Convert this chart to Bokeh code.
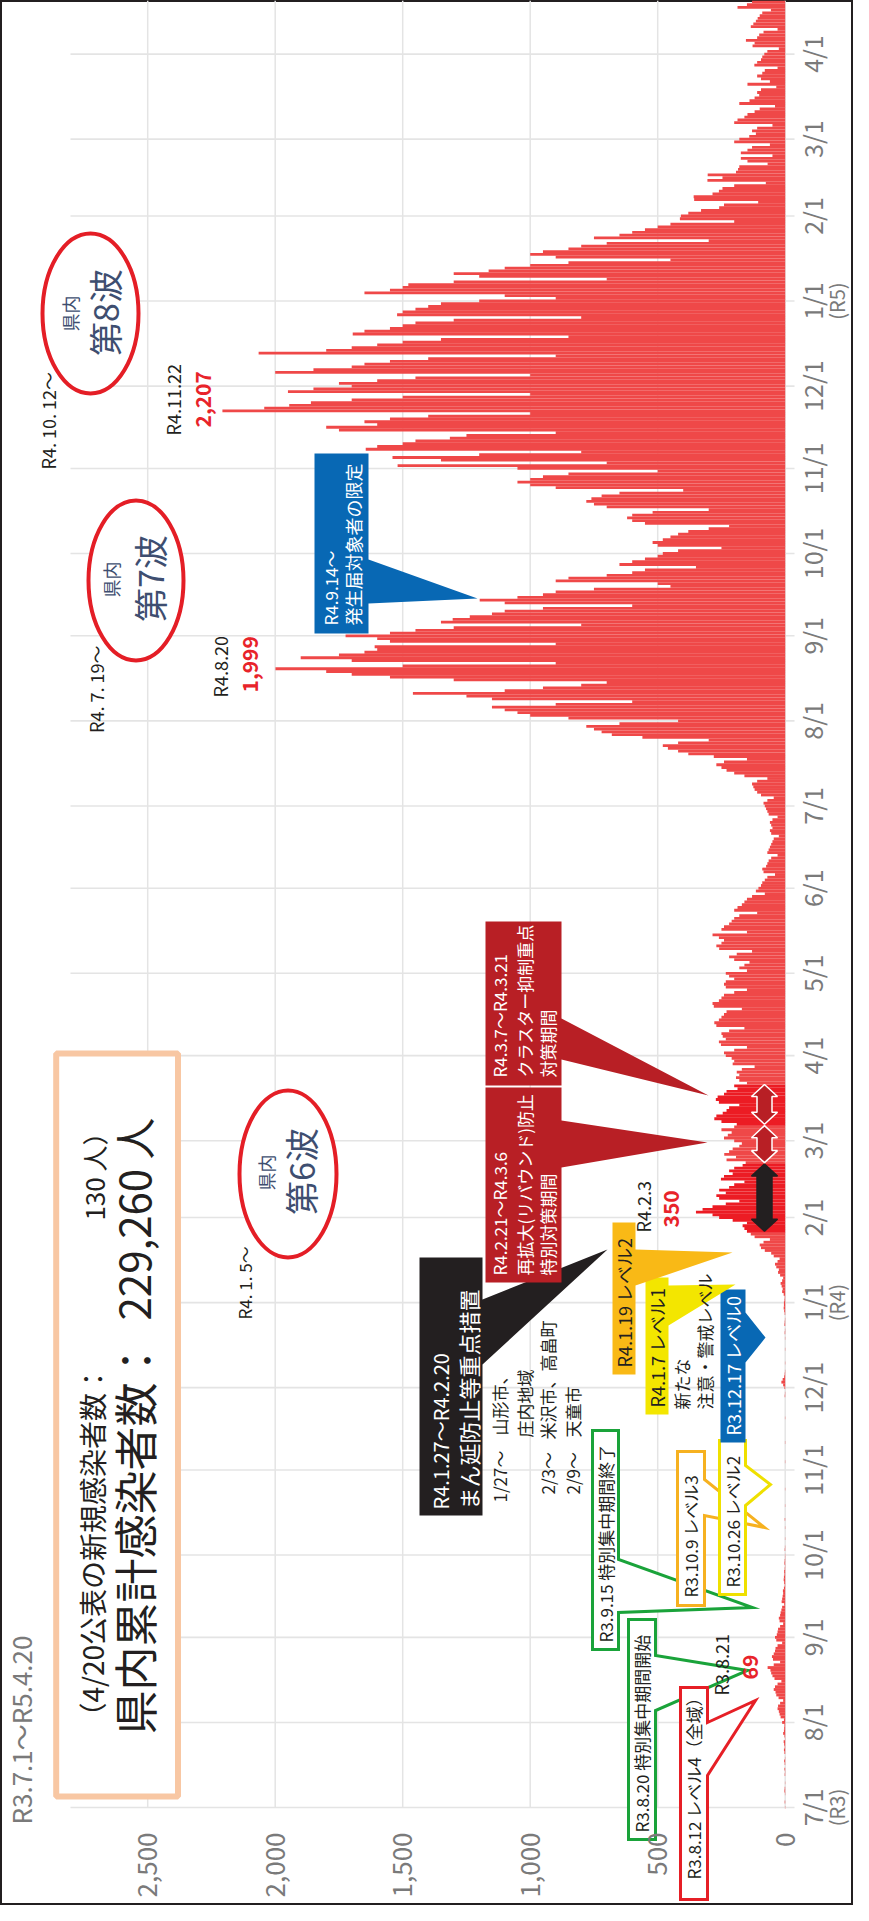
import numpy as np
import pandas as pd
from math import pi
from bokeh.plotting import figure
from bokeh.models import Range1d, ColumnDataSource
from bokeh.core.properties import value
from bokeh.embed import file_html
from bokeh.resources import INLINE

# ---------------- data ----------------
START = "2021-07-01"
cases_2021_07 = [1,0,2,0,0,1,3,2,0,1,0,0,2,1,3,0,2,4,1,0,3,5,2,4,6,1,3,8,5,4,3]
cases_2021_08 = [12,5,18,22,25,30,28,20,8,26,35,38,45,40,30,15,42,50,55,58,69,45,20,48,52,45,40,38,30,12,35]
cases_2021_09 = [40,33,30,28,20,8,22,25,20,18,15,12,4,14,12,10,8,9,5,2,4,6,5,3,4,2,1,3,2,1]
cases_2021_10 = [1,0,2,1,0,0,1,0,0,0,1,0,0,2,0,0,0,0,1,0,0,0,0,0,1,0,0,0,0,0,0]
cases_2021_11 = [0,0,0,1,0,0,0,0,0,0,1,0,0,0,0,0,0,0,0,1,0,0,0,0,0,0,0,2,1,0]
cases_2021_12 = [3,8,15,10,4,2,1,0,0,1,0,0,0,0,1,0,0,0,1,0,2,1,0,3,2,1,0,2,4,6,5]
cases_2022_01 = [5,3,2,6,12,10,14,18,12,8,20,28,25,35,40,30,22,45,55,80,95,100,85,60,120,135,150,160,167,150,206]
cases_2022_02 = [259,285,350,324,285,233,180,259,270,233,259,220,200,160,252,240,206,220,200,167,155,230,193,239,220,206,180,170]
cases_2022_03 = [200,240,225,210,250,200,190,250,278,270,245,230,220,180,260,272,265,240,230,187,200,150,180,193,180,190,170,120,206,200,210]
cases_2022_04 = [233,240,200,150,252,260,233,245,250,220,160,270,278,260,250,240,230,170,280,285,260,250,240,200,150,233,240,233,200,220]
cases_2022_05 = [233,150,180,160,140,200,220,190,130,259,270,250,240,260,285,150,250,240,220,210,200,180,110,200,187,170,160,150,130,80,115]
cases_2022_06 = [105,95,90,80,70,40,85,90,75,70,65,55,30,70,65,60,55,50,45,25,55,60,50,55,60,50,30,65,70,75]
cases_2022_07 = [80,85,70,45,95,110,120,125,130,110,70,160,200,230,250,270,240,150,280,380,420,460,480,420,300,560,680,720,750,780,650]
cases_2022_08 = [420,850,1000,1050,1100,1150,900,600,1150,1250,1460,1100,950,800,700,1300,1550,1700,1800,1999,1500,900,1700,1900,1750,1650,1600,1610,900,1550,1600]
cases_2022_09 = [1724,1550,1450,1300,800,1350,1304,1237,1150,1100,950,600,1100,1198,1050,950,900,750,450,500,900,850,700,600,550,350,650,600,550,500]
cases_2022_10 = [480,420,250,500,520,480,450,420,380,300,220,550,600,620,600,520,300,700,750,780,760,720,650,400,900,1000,1050,1000,950,850,500]
cases_2022_11 = [1050,1520,700,1350,1540,1200,800,1645,1600,1500,1450,1315,1250,900,1750,1800,1600,1650,1550,1400,1000,2207,2043,1945,1860,1700,1500,1000,1950,1850]
cases_2022_12 = [1700,1750,1600,1450,1000,2000,1850,1700,1650,1550,1400,900,2065,1800,1700,1600,1500,1350,850,1696,1650,1550,1500,1450,1300,800,1522,1500,1450,1400,1350]
cases_2023_01 = [1200,900,1100,1650,1550,1500,1478,1300,700,1200,1300,1163,1100,1000,850,450,900,1000,950,850,800,700,300,750,650,600,550,500,450,200,413]
cases_2023_02 = [409,380,330,259,240,106,357,359,285,260,246,200,76,305,246,304,193,185,180,69,148,174,50,174,148,130,60,200]
cases_2023_03 = [180,141,115,130,110,50,200,187,160,148,120,100,40,180,140,120,102,110,95,35,148,60,95,110,90,80,30,121,110,95,90]
cases_2023_04 = [82,70,25,128,120,154,110,102,85,30,135,125,115,108,100,90,56,187,150,130]

value_ticks = [0, 500, 1000, 1500, 2000, 2500]
value_tick_labels = ["0", "500", "1,000", "1,500", "2,000", "2,500"]
month_ticks = ["2021-07-01", "2021-08-01", "2021-09-01", "2021-10-01", "2021-11-01", "2021-12-01",
               "2022-01-01", "2022-02-01", "2022-03-01", "2022-04-01", "2022-05-01", "2022-06-01",
               "2022-07-01", "2022-08-01", "2022-09-01", "2022-10-01", "2022-11-01", "2022-12-01",
               "2023-01-01", "2023-02-01", "2023-03-01", "2023-04-01"]
month_tick_labels = ["7/1", "8/1", "9/1", "10/1", "11/1", "12/1",
                     "1/1", "2/1", "3/1", "4/1", "5/1", "6/1",
                     "7/1", "8/1", "9/1", "10/1", "11/1", "12/1",
                     "1/1", "2/1", "3/1", "4/1"]
era_ticks = ["2021-07-01", "2022-01-01", "2023-01-01"]
era_labels = ["(R3)", "(R4)", "(R5)"]

# periods of special measures (bars drawn brighter, arrows drawn)
bright_starts = ["2022-01-27", "2022-03-07"]
bright_ends = ["2022-02-20", "2022-03-21"]
arrow_starts = ["2022-01-27", "2022-02-21", "2022-03-07"]
arrow_ends = ["2022-02-20", "2022-03-06", "2022-03-21"]

cases = (cases_2021_07 + cases_2021_08 + cases_2021_09 + cases_2021_10 + cases_2021_11 + cases_2021_12 +
         cases_2022_01 + cases_2022_02 + cases_2022_03 + cases_2022_04 + cases_2022_05 + cases_2022_06 +
         cases_2022_07 + cases_2022_08 + cases_2022_09 + cases_2022_10 + cases_2022_11 + cases_2022_12 +
         cases_2023_01 + cases_2023_02 + cases_2023_03 + cases_2023_04)

start = pd.Timestamp(START)
dates = pd.date_range(start, periods=len(cases))
days = np.arange(len(cases))


def day(s):
    return (pd.Timestamp(s) - start).days


# ---------------- layout (reference-page pixels -> data) ----------------
X0, KX = 792.7, 0.255    # page x of value 0, px per case
Y0, KY = 1815.0, 2.744   # page y of day 0, px per day


def lv(px):
    return (X0 - px) / KX


def ld(py):
    return (Y0 - py) / KY


FONT = "Noto Sans CJK JP"
INK = "#231f20"
AXG = "#7a7a7a"
RED_NUM = "#e8232a"
WAVE = "#3e4e70"
BAR = "#ef4848"
BAR_HI = "#ec1c24"
GRID = "#e4e4e4"

p = figure(width=853, height=1905,
           x_range=Range1d(lv(8), lv(861)), y_range=Range1d(ld(1913), ld(8)),
           output_backend="svg", toolbar_location=None,
           x_axis_location=None, y_axis_location=None, min_border=0)
p.outline_line_color = INK
p.outline_line_width = 3
p.background_fill_color = "white"
p.border_fill_color = "white"
for g in p.grid:
    g.visible = False

# grid lines
top_day = ld(8)
p.segment(x0=value_ticks, y0=[0] * len(value_ticks), x1=value_ticks, y1=[top_day] * len(value_ticks),
          line_color=GRID, line_width=1.5)
mdays = [day(s) for s in month_ticks]
p.segment(x0=[lv(78)] * len(mdays), y0=mdays, x1=[lv(802)] * len(mdays), y1=mdays,
          line_color=GRID, line_width=1.6)

# bars
bright = np.zeros(len(cases), dtype=bool)
for s, e in zip(bright_starts, bright_ends):
    bright |= (dates >= pd.Timestamp(s)) & (dates <= pd.Timestamp(e))
colors = [BAR_HI if b else BAR for b in bright]
src = ColumnDataSource(dict(y=days, right=cases, color=colors))
p.hbar(y="y", left=0, right="right", height=1.04, fill_color="color", line_color=None, source=src)

# double arrows for the measure periods
ac = lv(772)
sw, hw, hl = 7.5 / KX, 13 / KX, 4.4
arrow_fill = [INK, "#b81f25", "#b81f25"]
arrow_line = [INK, "white", "white"]
for s, e, fc, lc in zip(arrow_starts, arrow_ends, arrow_fill, arrow_line):
    a, b = day(s), day(e) + 0.5
    xs = [ac, ac - hw, ac - sw, ac - sw, ac - hw, ac, ac + hw, ac + sw, ac + sw, ac + hw]
    ys = [b, b - hl, b - hl, a + hl, a + hl, a, a + hl, a + hl, b - hl, b - hl]
    p.patch(xs, ys, fill_color=fc, line_color=lc, line_width=1.5)

# summary box
p.quad(left=[lv(185.5)], right=[lv(63.7)], top=[ld(1061)], bottom=[ld(1804)],
       fill_color="white", line_color="#f8c7a3", line_width=6)

# wave ellipses
for cx, cy, w, h in [(98, 321, 96, 160), (143.5, 588, 95, 160), (295.5, 1181.5, 97, 167)]:
    p.ellipse(x=[lv(cx)], y=[ld(cy)], width=[w / KX], height=[h / KY],
              fill_color="white", line_color="#e41e26", line_width=4)

# callouts: left, right, top, bottom, pointer base top, pointer base bottom, tip x, tip y, fill, line
GREEN, REDL, ORANGE, YELLOW = "#1aa33a", "#e61f26", "#f6b120", "#efe000"
BLUE, YELLOWF, ORANGEF, DRED = "#0868b4", "#f3e600", "#f9b916", "#b81f25"
callouts = [
    (636, 663, 1627, 1847, 1663, 1718, 755, 1678, "white", GREEN),
    (688, 715, 1695, 1907, 1730, 1783, 763, 1708, "white", REDL),
    (600, 626, 1438, 1657, 1567, 1620, 760, 1615, "white", GREEN),
    (685, 712, 1459, 1613, 1487, 1523, 772, 1535, "white", ORANGE),
    (727, 753, 1448, 1602, 1473, 1513, 778, 1492, "white", YELLOW),
    (728, 753, 1297, 1450, 1320, 1370, 773, 1345, BLUE, None),
    (653, 676, 1285, 1422, 1293, 1333, 743, 1292, YELLOWF, None),
    (620, 643, 1230, 1382, 1257, 1293, 740, 1260, ORANGEF, None),
    (427, 490, 1265, 1523, 1307, 1372, 615, 1257, INK, None),
    (493, 569, 1095, 1290, 1128, 1175, 715, 1150, DRED, None),
    (493, 569, 929, 1093, 1026, 1067, 716, 1103, DRED, None),
    (322, 376, 461, 641, 567, 611, 485, 606, BLUE, None),
]
for L, R, T, B, b1, b2, tx, ty, fc, lc in callouts:
    xs = [L, R, R, tx, R, R, L]
    ys = [T, T, b1, ty, b2, B, B]
    p.patch([lv(x) for x in xs], [ld(y) for y in ys], fill_color=fc,
            line_color=lc, line_width=3 if lc else 0, line_join="miter")

# axis tick labels
p.text(x=value_ticks, y=[ld(1840)] * len(value_ticks), text=value_tick_labels, angle=pi / 2,
       text_align="right", text_baseline="middle", text_font=value(FONT),
       text_font_size=value("26px"), text_color=AXG)
p.text(x=[lv(819)] * len(mdays), y=mdays, text=month_tick_labels, angle=pi / 2,
       text_align="center", text_baseline="middle", text_font=value(FONT),
       text_font_size=value("25px"), text_color=AXG)
p.text(x=[lv(844)] * len(era_ticks), y=[day(s) for s in era_ticks], text=era_labels, angle=pi / 2,
       text_align="center", text_baseline="middle", text_font=value(FONT),
       text_font_size=value("20px"), text_color=AXG)

W = "white"
texts = [
    ("R3.7.1～R5.4.20", 28, 1832, 26, AXG, "left", False),
    ("（4/20公表の新規感染者数：", 99, 1738, 28, INK, "left", False),
    ("130 人）", 101, 1127, 26, INK, "right", False),
    ("県内累計感染者数：", 141, 1742, 44, INK, "left", False),
    ("229,260 人", 140, 1125, 42, INK, "right", False),
    ("R4. 10. 12～", 55, 477, 18, INK, "left", False),
    ("R4.11.22", 180, 443, 18, INK, "left", False),
    ("2,207", 210, 435, 21, RED_NUM, "left", True),
    ("R4. 7. 19～", 103, 653, 18, INK, "right", False),
    ("R4.8.20", 227, 705, 18, INK, "left", False),
    ("1,999", 257, 700, 21, RED_NUM, "left", True),
    ("R4. 1. 5～", 252, 1327, 17, INK, "left", False),
    ("R4.2.3", 650, 1240, 18, INK, "left", False),
    ("350", 678, 1235, 21, RED_NUM, "left", True),
    ("R3.8.21", 728, 1703, 18, INK, "left", False),
    ("69", 757, 1687, 21, RED_NUM, "left", True),
    ("R4.9.14～", 338, 633, 17, W, "left", False),
    ("発生届対象者の限定", 360, 633, 18, W, "left", False),
    ("R4.1.27～R4.2.20", 448, 1517, 20, W, "left", False),
    ("まん延防止等重点措置", 475, 1517, 22, W, "left", False),
    ("1/27～", 507, 1510, 17, INK, "left", False),
    ("山形市、", 507, 1443, 17, INK, "left", False),
    ("庄内地域", 532, 1445, 17, INK, "left", False),
    ("2/3～", 555, 1502, 17, INK, "left", False),
    ("米沢市、高畠町", 555, 1447, 17, INK, "left", False),
    ("2/9～", 580, 1502, 17, INK, "left", False),
    ("天童市", 580, 1445, 17, INK, "left", False),
    ("R4.2.21～R4.3.6", 507, 1283, 17, W, "left", False),
    ("再拡大(リバウンド)防止", 532, 1283, 17, W, "left", False),
    ("特別対策期間", 555, 1283, 17, W, "left", False),
    ("R4.3.7～R4.3.21", 507, 1085, 17, W, "left", False),
    ("クラスター抑制重点", 532, 1085, 17, W, "left", False),
    ("対策期間", 555, 1085, 17, W, "left", False),
    ("R4.1.19 レベル2", 631, 1375, 18, INK, "left", False),
    ("R4.1.7 レベル1", 664, 1415, 18, INK, "left", False),
    ("新たな", 689, 1417, 17, INK, "left", False),
    ("注意・警戒レベル", 712, 1417, 17, INK, "left", False),
    ("R3.12.17 レベル0", 740, 1443, 18, W, "left", False),
    ("R3.10.26 レベル2", 740, 1595, 17, INK, "left", False),
    ("R3.10.9 レベル3", 698, 1605, 17, INK, "left", False),
    ("R3.9.15 特別集中期間終了", 613, 1650, 17, INK, "left", False),
    ("R3.8.20 特別集中期間開始", 649, 1840, 17, INK, "left", False),
    ("R3.8.12 レベル4（全域）", 701, 1887, 17, INK, "left", False),
    ("県内", 77, 321, 18, WAVE, "center", False),
    ("第8波", 112, 320, 34, WAVE, "center", False),
    ("県内", 118, 587, 18, WAVE, "center", False),
    ("第7波", 157, 586, 34, WAVE, "center", False),
    ("県内", 273, 1180, 18, WAVE, "center", False),
    ("第6波", 308, 1179, 34, WAVE, "center", False),
]
for s, X, Y, size, col, align, bold in texts:
    p.text(x=[lv(X)], y=[ld(Y)], text=[s], angle=pi / 2, text_align=align,
           text_baseline="middle", text_font=value(FONT), text_font_size=value(f"{size}px"),
           text_color=col, text_font_style="bold" if bold else "normal")

with open("out.html", "w", encoding="utf-8") as f:
    f.write(file_html(p, INLINE))
